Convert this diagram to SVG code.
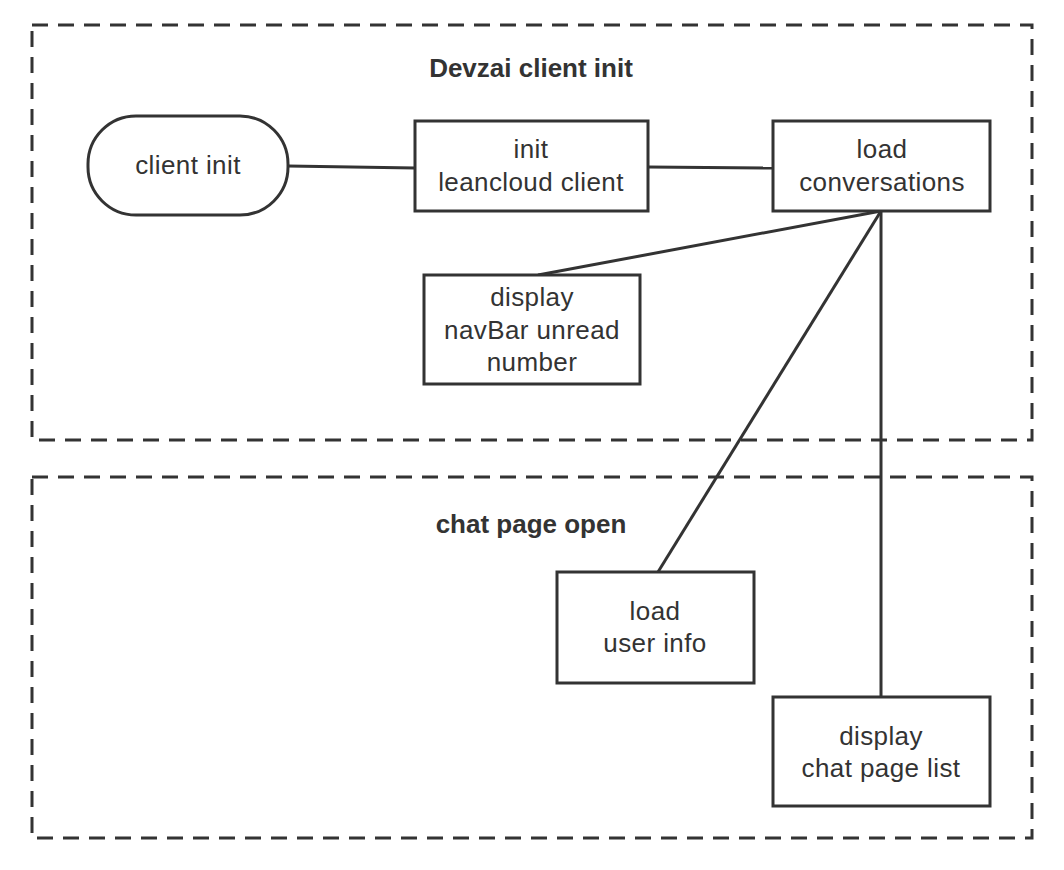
<svg xmlns="http://www.w3.org/2000/svg" width="1064" height="870" viewBox="0 0 1064 870">
<style>
.grp{fill:none;stroke:#333;stroke-width:3;stroke-dasharray:16 10}
.box{fill:#fff;stroke:#333;stroke-width:3}
.t{font-family:"Liberation Sans",Arial,sans-serif;font-size:26px;letter-spacing:0.4px;fill:#333;text-anchor:middle}
.title{font-family:"Liberation Sans",Arial,sans-serif;font-size:26px;font-weight:bold;fill:#333;text-anchor:middle}
.c{fill:none;stroke:#333;stroke-width:3}
</style>
<rect width="1064" height="870" fill="#fff"/>
<g id="group-devzai">
<rect class="grp" x="32" y="25" width="1000" height="415"/>
<text class="title" x="531" y="77">Devzai client init</text>
</g>
<g id="group-chat">
<rect class="grp" x="32" y="477" width="1000" height="361"/>
<text class="title" x="531" y="533">chat page open</text>
</g>
<g id="connectors">
<line class="c" x1="288" y1="166" x2="415" y2="168"/>
<line class="c" x1="648" y1="167" x2="773" y2="168"/>
<line class="c" x1="881" y1="211" x2="538" y2="275"/>
<line class="c" x1="881" y1="211" x2="658" y2="572"/>
<line class="c" x1="881" y1="211" x2="881" y2="697"/>
</g>
<g id="client-init">
<rect class="box" x="88" y="116" width="200" height="99" rx="48"/>
<text class="t" x="188" y="174">client init</text>
</g>
<g id="init-leancloud">
<rect class="box" x="415" y="121" width="233" height="90"/>
<text class="t" x="531" y="158">init</text>
<text class="t" x="531" y="191">leancloud client</text>
</g>
<g id="load-conversations">
<rect class="box" x="773" y="121" width="217" height="90"/>
<text class="t" x="882" y="158">load</text>
<text class="t" x="882" y="191">conversations</text>
</g>
<g id="display-navbar">
<rect class="box" x="424" y="275" width="216" height="109"/>
<text class="t" x="532" y="306">display</text>
<text class="t" x="532" y="339">navBar unread</text>
<text class="t" x="532" y="371">number</text>
</g>
<g id="load-user-info">
<rect class="box" x="557" y="572" width="197" height="111"/>
<text class="t" x="655" y="620">load</text>
<text class="t" x="655" y="652">user info</text>
</g>
<g id="display-chat-list">
<rect class="box" x="773" y="697" width="217" height="109"/>
<text class="t" x="881" y="745">display</text>
<text class="t" x="881" y="777">chat page list</text>
</g>
</svg>
